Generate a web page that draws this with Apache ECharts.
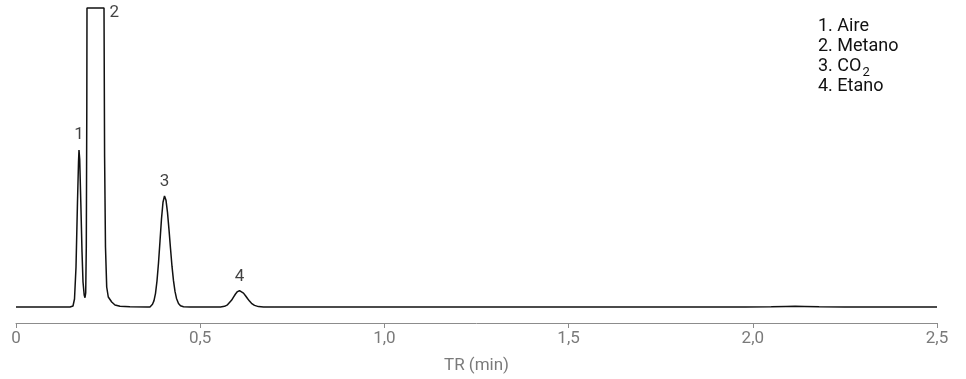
<!DOCTYPE html>
<html>
<head>
<meta charset="utf-8">
<script src="https://cdn.jsdelivr.net/npm/echarts@6/dist/echarts.min.js"></script>
<style>
html,body{margin:0;padding:0;background:#fff;}
#chart{width:966px;height:379px;}
</style>
</head>
<body>
<div id="chart"></div>
<script>
// Retention time (min) of each trace point
const times = [
  0, 0.1466, 0.1547, 0.1588, 0.1629, 0.1669, 0.1697, 0.1710, 0.1729, 0.1759, 0.1792, 0.1819, 0.1851, 0.1873,
  0.1892, 0.1908, 0.1922, 0.1927, 0.2389, 0.2405, 0.2429, 0.2462, 0.2505, 0.2598, 0.2687, 0.2823, 0.3094, 0.3637,
  0.3569, 0.3651, 0.3705, 0.3746, 0.3787, 0.3827, 0.3868, 0.3909, 0.3949, 0.3990, 0.4031, 0.4072, 0.4112, 0.4153,
  0.4194, 0.4234, 0.4275, 0.4316, 0.4357, 0.4411, 0.4465, 0.4547, 0.4723,
  0.5429, 0.5551, 0.5660, 0.5741, 0.5795, 0.5850, 0.5904, 0.5958, 0.6012, 0.6067, 0.6121, 0.6175, 0.6230, 0.6284,
  0.6338, 0.6392, 0.6474, 0.6582, 0.6718, 0.7030,
  1.0, 1.5, 1.98, 2.05, 2.09, 2.115, 2.14, 2.18, 2.25, 2.5
];
// Detector signal (arbitrary units, peak 2 off-scale)
const signal = [
  0, 0, 1, 8, 40, 105, 145, 157, 148, 105, 55, 25, 12, 9.3,
  14, 60, 200, 299, 299, 150, 60, 20, 10, 5, 2, 0.7, 0.2, 0,
  0, 0.7, 2.7, 6.4, 13.7, 26, 44, 66, 88, 104.8, 111, 106.7, 94.6, 77.4,
  58.5, 40.8, 26.3, 15.6, 8.6, 3.4, 1.2, 0.2, 0,
  0, 0.1, 0.7, 2.2, 4.1, 6.7, 9.9, 13.0, 15.4, 16.3, 15.6, 13.9, 11.3, 8.5,
  5.9, 3.7, 1.6, 0.4, 0.05, 0,
  0, 0, 0, 0.3, 0.6, 0.7, 0.6, 0.3, 0, 0
];
// Peak labels
const peakNames = ['1', '2', '3', '4'];
const peakTimes = [0.1710, 0.2389, 0.4031, 0.6067];
const peakSignals = [157, 299, 111, 16.3];
// Compound list
const compounds = ['Aire', 'Metano', 'CO{sub|2}', 'Etano'];
// Axis
const xTicks = [0, 0.5, 1.0, 1.5, 2.0, 2.5];
const xTickLabels = ['0', '0,5', '1,0', '1,5', '2,0', '2,5'];
const xAxisName = 'TR (min)';

const FONT = 'Roboto, "Noto Sans", sans-serif';
const pts = times.map((t, i) => [t, signal[i]]).sort((a, b) => a[0] - b[0]);

const labelDistances = [6, 0, 5.5, 5];
const peakData = peakNames.map((n, i) => {
  const item = { name: n, value: [peakTimes[i], peakSignals[i]] };
  if (i === 1) {
    item.label = { position: [6, -3], align: 'left', verticalAlign: 'top' };
  } else {
    item.label = { position: 'top', distance: labelDistances[i] };
  }
  return item;
});

const chart = echarts.init(document.getElementById('chart'), null, { renderer: 'canvas' });
chart.setOption({
  animation: false,
  backgroundColor: '#ffffff',
  title: {
    left: 818,
    top: 16,
    padding: 0,
    text: compounds.map((c, i) => (i + 1) + '. ' + c).join('\n'),
    textStyle: {
      fontFamily: FONT,
      fontSize: 18,
      fontWeight: 'normal',
      color: '#111111',
      lineHeight: 20,
      rich: {
        sub: { fontFamily: FONT, fontSize: 13, color: '#111111', lineHeight: 20, padding: [14, 0, 0, 1] }
      }
    }
  },
  grid: { left: 16, right: 29, top: 8, bottom: 56, containLabel: false },
  xAxis: {
    type: 'value',
    min: 0,
    max: 2.5,
    interval: 0.5,
    name: xAxisName,
    nameLocation: 'middle',
    nameGap: 34,
    nameTextStyle: { fontFamily: FONT, fontSize: 17, color: '#7a7a7a' },
    axisLine: { show: true, onZero: false, lineStyle: { color: '#8c8c8c', width: 1 } },
    axisTick: { show: true, length: 5, lineStyle: { color: '#8c8c8c' } },
    axisLabel: {
      margin: 7.5,
      fontFamily: FONT,
      fontSize: 17,
      color: '#7a7a7a',
      formatter: v => {
        const idx = xTicks.findIndex(t => Math.abs(t - v) < 1e-6);
        return idx >= 0 ? xTickLabels[idx] : '';
      }
    },
    splitLine: { show: false }
  },
  yAxis: {
    type: 'value',
    min: -16,
    max: 299,
    show: false,
    splitLine: { show: false }
  },
  series: [
    {
      type: 'line',
      data: pts,
      showSymbol: false,
      symbol: 'none',
      clip: false,
      smooth: false,
      lineStyle: { color: '#111111', width: 1.5 }
    },
    {
      type: 'scatter',
      data: peakData,
      symbolSize: 1,
      itemStyle: { color: 'rgba(0,0,0,0)' },
      silent: true,
      z: 5,
      label: {
        show: true,
        formatter: p => p.name,
        fontFamily: FONT,
        fontSize: 17,
        color: '#111111'
      }
    }
  ]
});
</script>
</body>
</html>
